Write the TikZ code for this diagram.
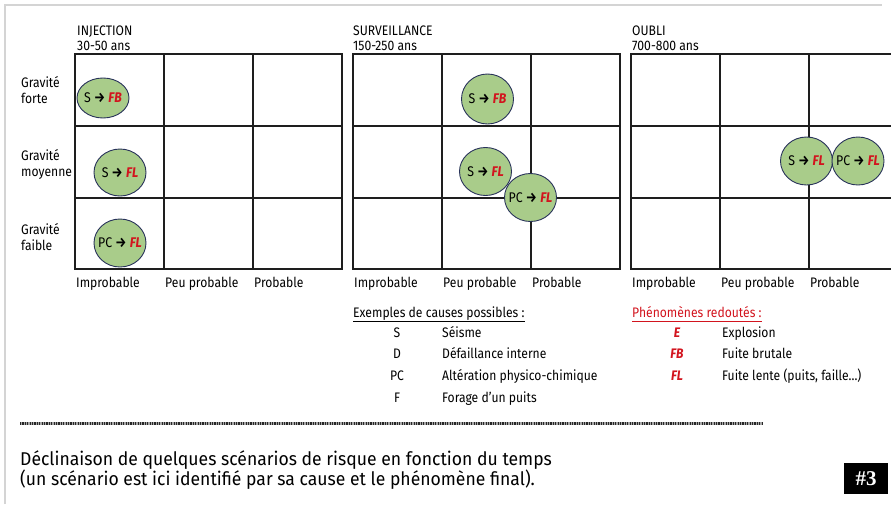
\documentclass[tikz,border=0pt]{standalone}
\usepackage{fontspec}
\setmainfont{Fira Sans}[FakeStretch=0.88]
\newfontfamily\capfont{Fira Sans}[FakeStretch=0.95]
\newfontfamily\hashfont{Liberation Serif}
\usetikzlibrary{shapes.geometric,calc}
\definecolor{bubblefill}{RGB}{169,204,138}
\definecolor{bubbledraw}{RGB}{40,50,90}
\definecolor{redc}{RGB}{210,20,30}
\definecolor{framegray}{RGB}{212,212,212}
\definecolor{gridc}{RGB}{30,30,30}
\newcommand{\ph}[1]{\textcolor{redc}{\bfseries\itshape #1}}
\newcommand{\arr}{\textbf{→}}
\newcommand{\bub}[1]{\makebox[0pt]{#1}}
\tikzset{
  lbl/.style={anchor=base west, inner sep=0, font=\fontsize{13.8}{15}\selectfont},
  lblc/.style={anchor=base, inner sep=0, font=\fontsize{13.8}{15}\selectfont},
  bubble/.style={ellipse, draw=bubbledraw, fill=bubblefill, line width=0.9pt, inner sep=0,
    minimum width=52, minimum height=48, font=\fontsize{14}{15}\selectfont},
  gridline/.style={draw=gridc, line width=1.4pt},
  caption/.style={anchor=base west, inner sep=0, font=\capfont\fontsize{18.5}{20}\selectfont},
}
\begin{document}
\begin{tikzpicture}[x=1pt,y=-1pt]
\useasboundingbox (0,0) rectangle (891,504);
% frame
\draw[framegray, line width=1.6pt] (5,504) -- (5,5) -- (882,5);
% grids
\foreach \L in {75,353,631} {
  \draw[gridline] (\L,54) rectangle (\L+267,269);
  \draw[gridline] (\L+89,54) -- (\L+89,269);
  \draw[gridline] (\L+178,54) -- (\L+178,269);
  \draw[gridline] (\L,126) -- (\L+267,126);
  \draw[gridline] (\L,198) -- (\L+267,198);
  \node[lbl] (imp\L) at (\L+1,287) {Improbable};
  \node[lbl] (peu\L) at (\L+90,287) {Peu probable};
  \node[lbl] (pro\L) at (\L+179,287) {Probable};
}
% headings
\node[lbl] (h1a) at (77,35.5) {INJECTION};
\node[lbl] (h1b) at (77,50.5) {30-50 ans};
\node[lbl] (h2a) at (353,35.5) {SURVEILLANCE};
\node[lbl] (h2b) at (353,50.5) {150-250 ans};
\node[lbl] (h3a) at (632,35.5) {OUBLI};
\node[lbl] (h3b) at (632,50.5) {700-800 ans};
% row labels
\node[lbl] (g1a) at (21,87.5) {Gravité};
\node[lbl] (g1b) at (21,103) {forte};
\node[lbl] (g2a) at (21,160.5) {Gravité};
\node[lbl] (g2b) at (21,176) {moyenne};
\node[lbl] (g3a) at (21,234.5) {Gravité};
\node[lbl] (g3b) at (21,250) {faible};
% bubbles
\node[bubble, minimum height=40] (b1) at (103,98) {\bub{S \arr{} \ph{FB}}};
\node[bubble, minimum height=47] (b2) at (120,172.5) {\bub{S \arr{} \ph{FL}}};
\node[bubble] (b3) at (120,243) {\bub{PC \arr{} \ph{FL}}};
\node[bubble, minimum height=50] (b4) at (487.5,99) {\bub{S \arr{} \ph{FB}}};
\node[bubble] (b5) at (485.5,171.5) {\bub{S \arr{} \ph{FL}}};
\node[bubble] (b6) at (530.5,197.5) {\bub{PC \arr{} \ph{FL}}};
\node[bubble] (b7) at (806.5,161) {\bub{S \arr{} \ph{FL}}};
\node[bubble] (b8) at (858,161) {\bub{PC \arr{} \ph{FL}}};
% legend causes
\node[lbl] (lc) at (353,317) {Exemples de causes possibles :};
\draw[line width=0.9pt] ($(lc.base west)+(0,4.5)$) -- ($(lc.base east)+(0,4.5)$);
\node[lblc] (cs) at (397,337) {S};
\node[lbl] (ds) at (442,337) {Séisme};
\node[lblc] (cd) at (397,358) {D};
\node[lbl] (dd) at (442,358) {Défaillance interne};
\node[lblc] (cp) at (397,380) {PC};
\node[lbl] (dp) at (442,380) {Altération physico-chimique};
\node[lblc] (cf) at (397,402) {F};
\node[lbl] (df) at (442,402) {Forage d’un puits};
% legend phenomena
\node[lbl, text=redc] (lp) at (632,317) {Phénomènes redoutés :};
\draw[redc, line width=0.9pt] ($(lp.base west)+(0,4.5)$) -- ($(lp.base east)+(0,4.5)$);
\node[lblc] (pe) at (677,337) {\ph{E}};
\node[lbl] (de) at (722,337) {Explosion};
\node[lblc] (pb) at (677,358) {\ph{FB}};
\node[lbl] (db) at (722,358) {Fuite brutale};
\node[lblc] (pl) at (677,380) {\ph{FL}};
\node[lbl] (dl) at (722,380) {Fuite lente (puits, faille...)};
% dotted separator
\draw[gray!70, line width=2.6pt] (20,423.3) -- (763,423.3);
\draw[black!85, line width=2.6pt, dash pattern=on 1.2pt off 1.2pt] (20,423.3) -- (763,423.3);
% caption
\node[caption] (cap1) at (20,465.5) {Déclinaison de quelques scénarios de risque en fonction du temps};
\node[caption] (cap2) at (20,485) {(un scénario est ici identifié par sa cause et le phénomène final).};
% tag
\node[fill=black, text=white, minimum width=44, minimum height=31, inner sep=0,
  font=\hashfont\bfseries\fontsize{21}{22}\selectfont] (tag) at (866,478.5) {\#3};
\end{tikzpicture}
\end{document}
